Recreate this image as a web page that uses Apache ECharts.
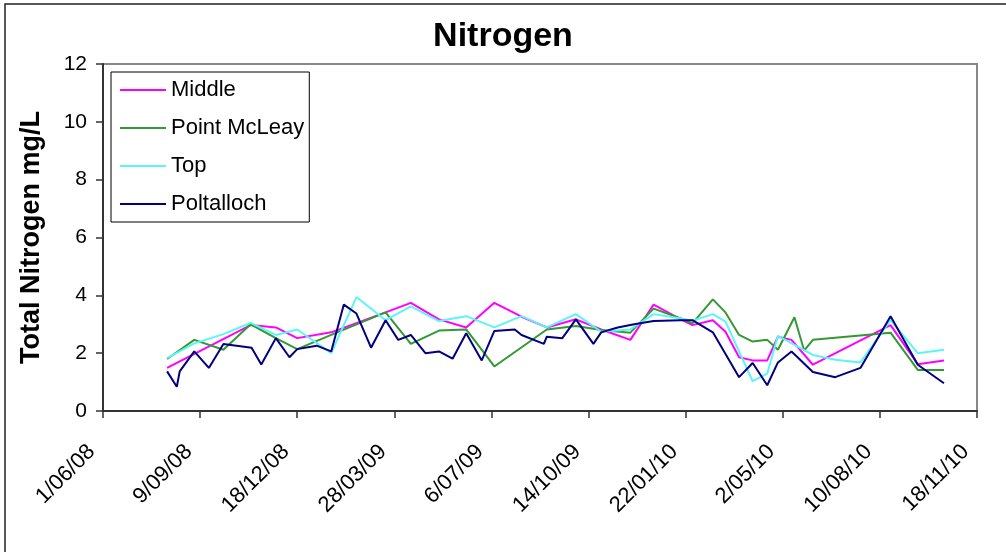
<!DOCTYPE html>
<html>
<head>
<meta charset="utf-8">
<script src="https://cdn.jsdelivr.net/npm/echarts@6/dist/echarts.min.js"></script>
<style>
html,body{margin:0;padding:0;background:#fff;}
#chart{width:1006px;height:552px;}
</style>
</head>
<body>
<div id="chart"></div>
<script>
const seriesNames = ['Middle', 'Point McLeay', 'Top', 'Poltalloch'];
const seriesColors = ['#FF00FF', '#339933', '#5CF5F5', '#000080'];

const xTickLabels = ['1/06/08', '9/09/08', '18/12/08', '28/03/09', '6/07/09', '14/10/09', '22/01/10', '2/05/10', '10/08/10', '18/11/10'];
const yTickLabels = ['0', '2', '4', '6', '8', '10', '12'];

const middleDates = ['2008-08-06','2008-10-31','2008-11-26','2008-12-18','2009-01-22','2009-03-19','2009-04-14','2009-05-13','2009-06-10','2009-07-09','2009-08-06','2009-09-01','2009-10-01','2009-10-27','2009-11-26','2009-12-20','2010-01-17','2010-01-29','2010-02-19','2010-03-04','2010-03-18','2010-04-01','2010-04-16','2010-04-27','2010-05-11','2010-06-02','2010-08-21','2010-09-18','2010-10-15'];
const middleValues = [1.49,2.97,2.89,2.52,2.72,3.41,3.74,3.17,2.89,3.74,3.26,2.89,3.17,2.82,2.46,3.68,3.17,2.97,3.14,2.74,1.86,1.75,1.75,2.57,2.46,1.60,2.97,1.62,1.75];

const mcleayDates = ['2008-08-06','2008-09-03','2008-10-03','2008-10-31','2008-11-26','2008-12-18','2009-01-22','2009-03-19','2009-04-14','2009-05-13','2009-06-10','2009-07-09','2009-09-01','2009-10-01','2009-10-27','2009-11-26','2009-12-20','2010-01-17','2010-01-29','2010-02-19','2010-03-04','2010-03-18','2010-04-01','2010-04-16','2010-04-27','2010-05-14','2010-05-24','2010-06-02','2010-08-21','2010-09-18','2010-10-15'];
const mcleayValues = [1.80,2.46,2.12,3.00,2.52,2.14,2.63,3.41,2.32,2.78,2.82,1.54,2.82,2.94,2.80,2.71,3.54,3.20,3.03,3.86,3.41,2.63,2.40,2.46,2.12,3.24,2.09,2.46,2.71,1.42,1.42];

const topDates = ['2008-08-06','2008-09-03','2008-10-03','2008-10-31','2008-11-26','2008-12-18','2009-01-22','2009-02-17','2009-03-19','2009-04-14','2009-05-13','2009-06-10','2009-07-09','2009-08-06','2009-09-01','2009-10-01','2009-10-27','2009-11-26','2009-12-20','2010-01-17','2010-01-29','2010-02-19','2010-03-04','2010-04-01','2010-04-16','2010-04-27','2010-06-02','2010-06-25','2010-07-21','2010-08-21','2010-09-18','2010-10-15'];
const topValues = [1.83,2.34,2.66,3.05,2.63,2.82,2.00,3.94,3.14,3.62,3.11,3.28,2.89,3.28,2.89,3.35,2.74,2.82,3.35,3.20,3.12,3.35,3.09,1.03,1.29,2.60,1.94,1.77,1.68,3.14,2.00,2.12];

const poltallochDates = ['2008-08-06','2008-08-16','2008-08-19','2008-09-03','2008-09-18','2008-10-03','2008-11-01','2008-11-11','2008-11-26','2008-12-10','2008-12-18','2009-01-07','2009-01-22','2009-02-04','2009-02-17','2009-03-04','2009-03-19','2009-04-01','2009-04-14','2009-04-29','2009-05-13','2009-05-27','2009-06-10','2009-06-26','2009-07-09','2009-07-30','2009-08-06','2009-08-29','2009-09-01','2009-09-17','2009-10-01','2009-10-19','2009-10-27','2009-11-13','2009-11-30','2009-12-20','2010-01-17','2010-01-29','2010-02-19','2010-03-18','2010-04-01','2010-04-16','2010-04-27','2010-05-11','2010-06-02','2010-06-25','2010-07-21','2010-08-21','2010-09-18','2010-10-15'];
const poltallochValues = [1.37,0.84,1.37,2.06,1.49,2.32,2.19,1.61,2.52,1.86,2.14,2.26,2.06,3.68,3.37,2.19,3.14,2.46,2.63,2.00,2.06,1.81,2.69,1.75,2.77,2.82,2.63,2.32,2.57,2.52,3.17,2.32,2.72,2.89,3.00,3.11,3.14,3.14,2.72,1.17,1.66,0.89,1.68,2.06,1.35,1.17,1.49,3.28,1.60,0.96];

const FONT = 'Arial, "Liberation Sans", sans-serif';
const ORIGIN = Date.UTC(2008, 5, 1);
function dayOffset(s) {
  const p = s.split('-').map(Number);
  return (Date.UTC(p[0], p[1] - 1, p[2]) - ORIGIN) / 86400000;
}
function pairs(dates, vals) {
  return dates.map((d, i) => [dayOffset(d), vals[i]]);
}
const allDates = [middleDates, mcleayDates, topDates, poltallochDates];
const allValues = [middleValues, mcleayValues, topValues, poltallochValues];

const chart = echarts.init(document.getElementById('chart'), null, {renderer: 'canvas'});
chart.setOption({
  backgroundColor: '#fff',
  animation: false,
  title: {
    text: 'Nitrogen',
    left: 'center',
    top: 15,
    textStyle: {fontFamily: FONT, fontSize: 34, fontWeight: 'bold', color: '#000'}
  },
  legend: {
    orient: 'vertical',
    left: 111,
    top: 72,
    data: seriesNames,
    icon: 'rect',
    backgroundColor: '#fff',
    borderColor: '#000',
    borderWidth: 1,
    padding: [7, 5, 7, 9],
    itemWidth: 46,
    itemHeight: 2,
    itemGap: 16,
    itemTextGap: 6,
    textStyle: {fontFamily: FONT, fontSize: 22, color: '#000', lineHeight: 22}
  },
  grid: {
    left: 103, top: 64, right: 29, bottom: 141,
    show: true, borderColor: '#888', borderWidth: 2, backgroundColor: '#fff'
  },
  xAxis: {
    type: 'value',
    min: 0, max: 900, interval: 100,
    axisLine: {show: true, lineStyle: {color: '#333', width: 2}},
    axisTick: {show: true, inside: false, length: 7, lineStyle: {color: '#333', width: 1.5}},
    splitLine: {show: false},
    axisLabel: {
      rotate: 45, margin: 26, padding: [0, 16, 0, 0],
      fontFamily: FONT, fontSize: 22, color: '#000',
      showMinLabel: true, showMaxLabel: true,
      formatter: v => xTickLabels[Math.round(v / 100)] || ''
    }
  },
  yAxis: {
    type: 'value',
    min: 0, max: 12, interval: 2,
    name: 'Total Nitrogen mg/L',
    nameLocation: 'middle',
    nameRotate: 90,
    nameGap: 58,
    nameTextStyle: {fontFamily: FONT, fontSize: 27, fontWeight: 'bold', color: '#000'},
    axisLine: {show: true, lineStyle: {color: '#333', width: 2}},
    axisTick: {show: true, inside: false, length: 7, lineStyle: {color: '#333', width: 1.5}},
    splitLine: {show: false},
    axisLabel: {
      margin: 16, fontFamily: FONT, fontSize: 21, color: '#000',
      formatter: v => yTickLabels[Math.round(v / 2)]
    }
  },
  graphic: [{
    type: 'rect', silent: true, z: 100,
    shape: {x: 5, y: 4, width: 1100, height: 600},
    style: {fill: 'none', stroke: '#222', lineWidth: 1.5}
  }],
  series: seriesNames.map((name, i) => ({
    name: name,
    type: 'line',
    data: pairs(allDates[i], allValues[i]),
    symbol: 'none',
    showSymbol: false,
    color: seriesColors[i],
    lineStyle: {color: seriesColors[i], width: 2},
    z: 2 + i
  }))
});
</script>
</body>
</html>
